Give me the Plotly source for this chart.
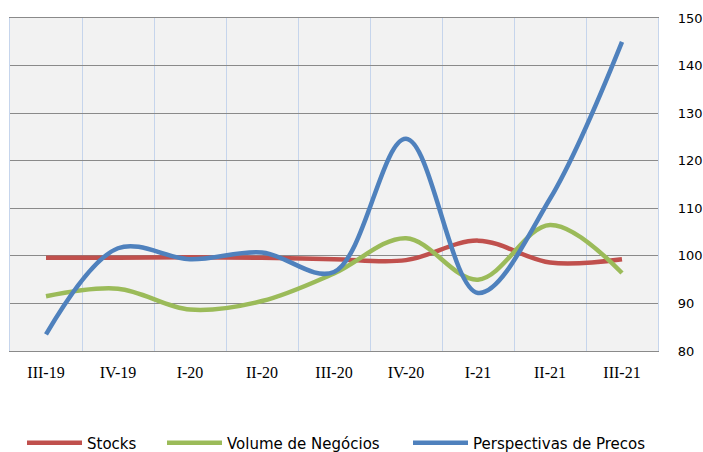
import plotly.graph_objects as go

categories = ["III-19", "IV-19", "I-20", "II-20", "III-20", "IV-20", "I-21", "II-21", "III-21"]
stocks = [99.6, 99.6, 99.7, 99.6, 99.3, 99.1, 103.2, 98.6, 99.3]
volume = [91.5, 93.1, 88.7, 90.5, 96.3, 103.7, 95.0, 106.5, 96.4]
precos = [83.5, 101.6, 99.3, 100.7, 96.6, 124.6, 92.2, 112.0, 145.0]
y_ticks = [80, 90, 100, 110, 120, 130, 140, 150]

series = [
    ("Stocks", stocks, "#c0504d", "legend"),
    ("Volume de Negócios", volume, "#9bbb59", "legend2"),
    ("Perspectivas de Precos", precos, "#4f81bd", "legend3"),
]

fig = go.Figure()
for name, vals, color, lg in series:
    fig.add_trace(go.Scatter(
        x=categories, y=vals, name=name, mode="lines",
        line=dict(color=color, width=4.5, shape="spline", smoothing=1),
        legend=lg,
    ))

W, H = 703, 452
ml, mr, mt, mb = 10, 45, 18, 101
legfont = dict(family="DejaVu Sans", size=15, color="#000000")

def leg(xpx):
    return dict(x=xpx / W, xref="container", y=(H - 443) / H, yref="container",
                xanchor="left", yanchor="middle",
                orientation="h", font=legfont, bgcolor="rgba(0,0,0,0)",
                itemwidth=55)

fig.update_layout(
    width=W, height=H,
    margin=dict(l=ml, r=mr, t=mt, b=mb, autoexpand=False),
    paper_bgcolor="white", plot_bgcolor="#f2f2f2",
    showlegend=True,
    legend=leg(22), legend2=leg(162), legend3=leg(408),
    xaxis=dict(
        type="category", range=[-0.5, 8.5], tickson="boundaries",
        showgrid=True, gridcolor="#c6d5ec", gridwidth=1.3,
        showline=True, linecolor="#8a8a8a", linewidth=1.3, mirror=True,
        ticks="", ticklabelstandoff=7,
        tickfont=dict(family="Liberation Serif", size=16, color="#000000"),
        zeroline=False,
    ),
    yaxis=dict(
        side="right", range=[80, 150], tickvals=y_ticks,
        showgrid=True, gridcolor="#8a8a8a", gridwidth=1.3,
        showline=True, linecolor="#c6d5ec", linewidth=1.3, mirror=True,
        ticks="", ticklabelstandoff=16,
        tickfont=dict(family="DejaVu Sans", size=13, color="#000000"),
        zeroline=False,
    ),
)

fig.write_html(
    "out.html",
    config={"displayModeBar": False},
    post_script="document.body.style.margin='0px';document.body.style.overflow='hidden';",
)
